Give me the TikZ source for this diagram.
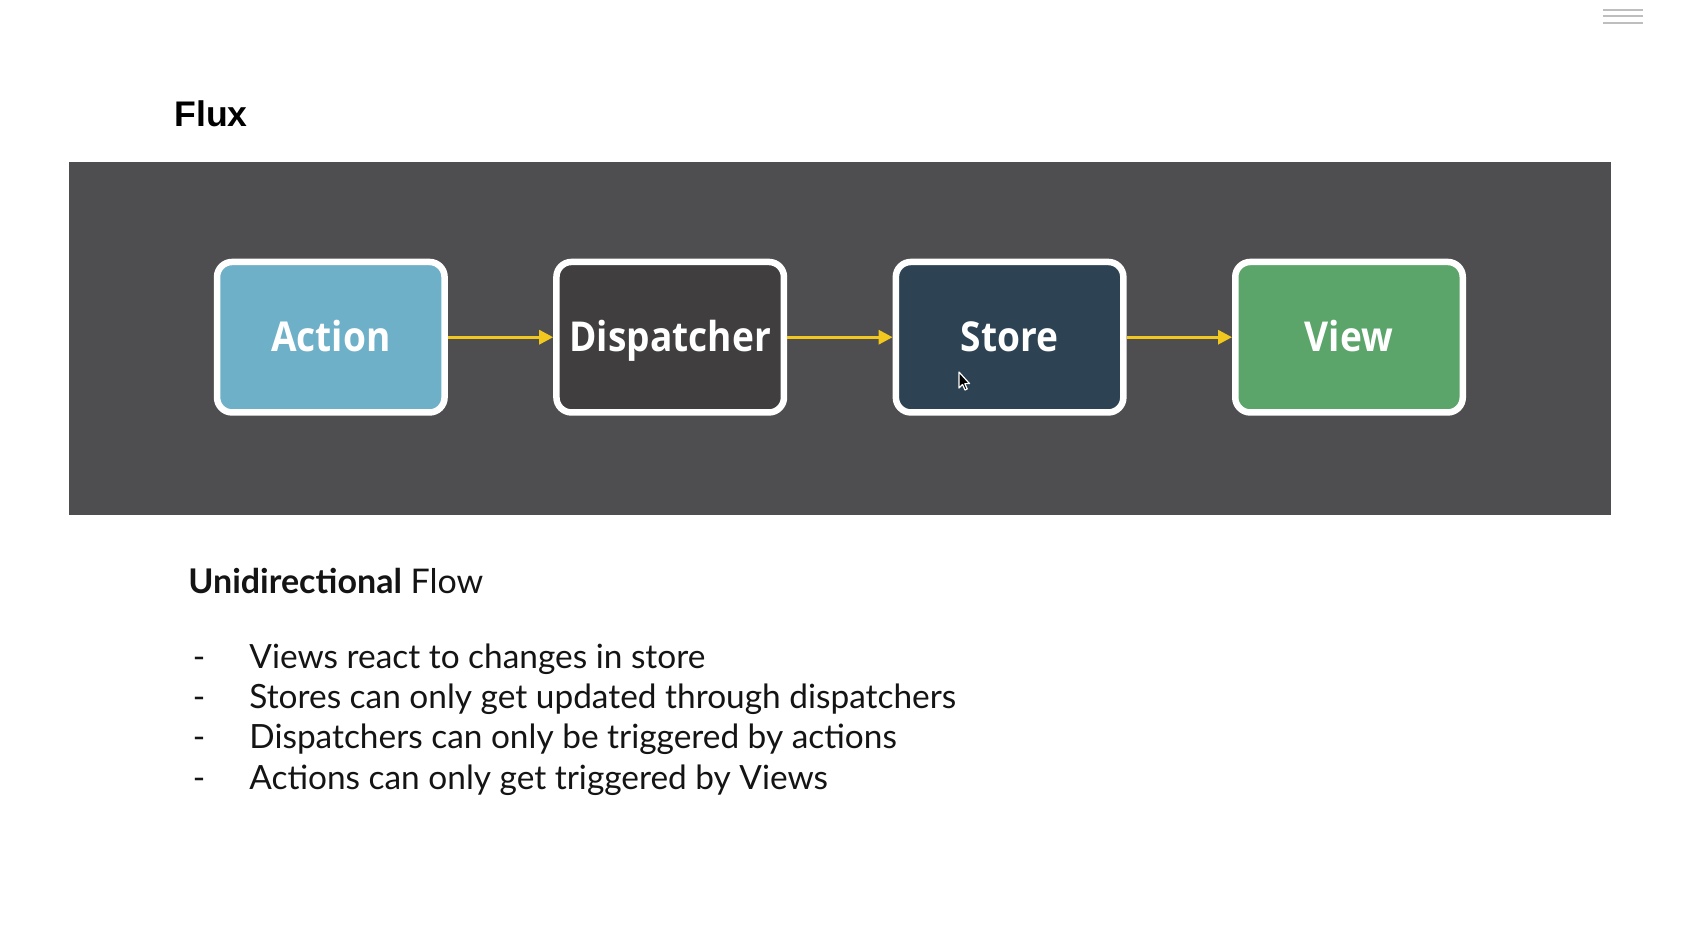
\documentclass[tikz,border=0pt]{standalone}
\usepackage{fontspec}
\setmainfont{Lato}
\newfontfamily\boxfont{Open Sans}[FakeStretch=0.9]
\newfontfamily\titlefont{Liberation Sans}
\usetikzlibrary{arrows.meta}
\definecolor{panel}{RGB}{78,78,80}
\definecolor{actc}{RGB}{111,176,201}
\definecolor{dispc}{RGB}{64,62,63}
\definecolor{storec}{RGB}{45,67,83}
\definecolor{viewc}{RGB}{91,164,106}
\definecolor{arrowc}{RGB}{242,200,31}
\definecolor{textc}{RGB}{20,20,20}
\definecolor{menuc}{RGB}{190,190,190}
\tikzset{
  flowbox/.style={draw=white, line width=3.25pt, rounded corners=7.5pt,
    minimum width=113.75pt, minimum height=75.25pt, inner sep=0pt,
    text height=14.7pt, text depth=0pt,
    text=white, font=\boxfont\bfseries\fontsize{20.6}{24}\selectfont},
  flowarrow/.style={draw=arrowc, line width=1.5pt, -{Triangle[length=7pt,width=7pt]}},
  bodytext/.style={anchor=base west, inner sep=0pt, text=textc, font=\fontsize{16.7}{20}\selectfont},
  headtext/.style={anchor=base west, inner sep=0pt, text=textc, font=\fontsize{17}{20}\selectfont},
  dashtext/.style={anchor=base, inner sep=0pt, text=textc, font=\fontsize{16.7}{20}\selectfont},
  menuline/.style={draw=menuc, line width=1pt}
}
\begin{document}
\begin{tikzpicture}[x=0.5pt,y=-0.5pt]
\useasboundingbox[fill=white] (0,0) rectangle (1684,933);
% menu icon
\coordinate (m1a) at (1603,9.5); \coordinate (m1b) at (1643,9.5);
\coordinate (m2a) at (1603,16); \coordinate (m2b) at (1643,16);
\coordinate (m3a) at (1603,22.5); \coordinate (m3b) at (1643,22.5);
\draw[menuline] (m1a) -- (m1b);
\draw[menuline] (m2a) -- (m2b);
\draw[menuline] (m3a) -- (m3b);
% title
\node[anchor=base west, inner sep=0pt, text=black, font=\titlefont\bfseries\fontsize{17.8}{21}\selectfont] (title) at (174,126.5) {Flux};
% panel
\fill[panel] (68.7,162.2) rectangle (1611,514.5);
% boxes
\node[flowbox, fill=actc] (action) at (330.8,337.2) {Action};
\node[flowbox, fill=dispc] (disp) at (670.2,337.2) {Dispatcher};
\node[flowbox, fill=storec] (store) at (1009.6,337.2) {Store};
\node[flowbox, fill=viewc] (view) at (1349,337.2) {View};
\draw[flowarrow] (action) -- (disp);
\draw[flowarrow] (disp) -- (store);
\draw[flowarrow] (store) -- (view);
% cursor
\draw[white, fill=black, line width=0.6pt, line join=round] (959,372) -- (959,388) -- (962.5,384.5) -- (965,390) -- (967.2,389) -- (964.8,383.6) -- (969.5,383.6) -- cycle;
% text
\node[headtext] (heading) at (188,593) {\textbf{Unidirectional} Flow};
\node[dashtext] (d1) at (199,668) {-};
\node[dashtext] (d2) at (199,708.8) {-};
\node[dashtext] (d3) at (199,748.6) {-};
\node[dashtext] (d4) at (199,789.4) {-};
\node[bodytext] (l1) at (249,668) {Views react to changes in store};
\node[bodytext] (l2) at (249,708.8) {Stores can only get updated through dispatchers};
\node[bodytext] (l3) at (249,748.6) {Dispatchers can only be triggered by actions};
\node[bodytext] (l4) at (249,789.4) {Actions can only get triggered by Views};
\end{tikzpicture}
\end{document}
